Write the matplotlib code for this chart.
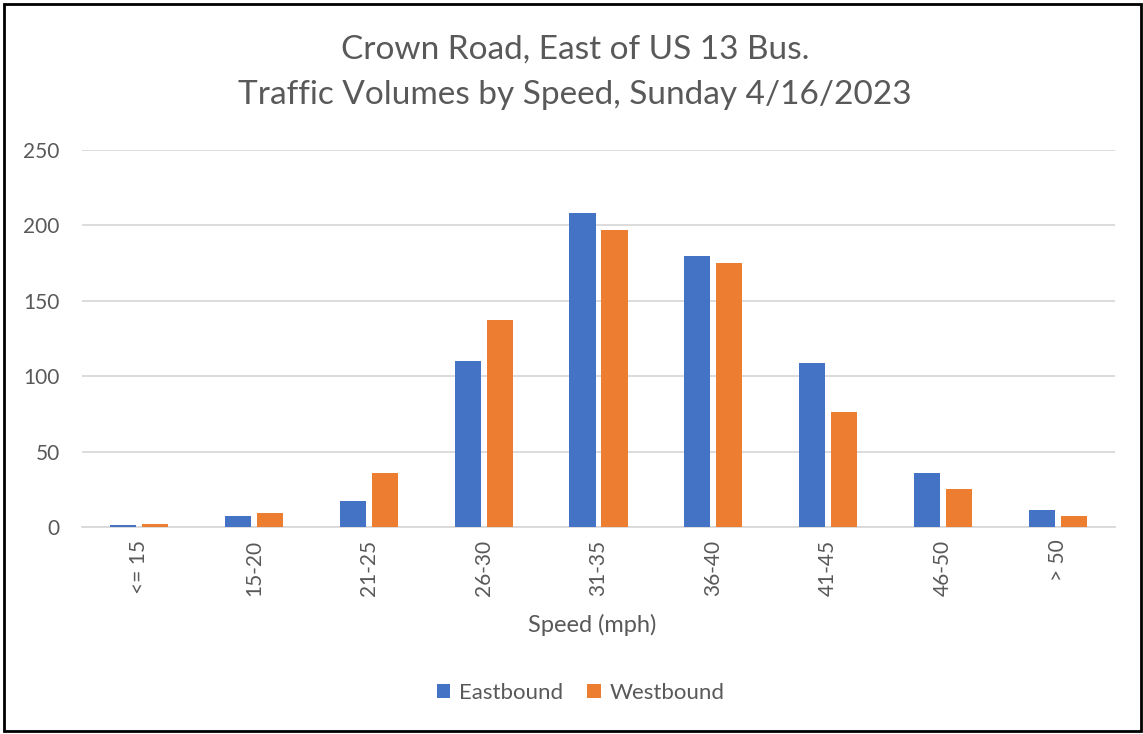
import matplotlib
matplotlib.use("Agg")
import matplotlib.pyplot as plt
import numpy as np
from matplotlib.patches import Rectangle

categories = ["<= 15", "15-20", "21-25", "26-30", "31-35", "36-40", "41-45", "46-50", "> 50"]
eastbound = [1, 7, 17, 110, 208, 180, 109, 36, 11]
westbound = [2, 9, 36, 137, 197, 175, 76, 25, 7]
yticks = [0, 50, 100, 150, 200, 250]

plt.rcParams['font.family'] = ['Lato', 'DejaVu Sans']
txt = '#595959'

fig = plt.figure(figsize=(11.43, 7.34), dpi=100)
ax = fig.add_axes([82/1143, 1-527/734, (1115-82)/1143, (527-150)/734])

x = np.arange(len(categories))
w = 0.227
gap = 0.026
ax.bar(x - w/2 - gap, eastbound, width=w, color='#4472C4', label='Eastbound', zorder=3)
ax.bar(x + w/2 + gap, westbound, width=w, color='#ED7D31', label='Westbound', zorder=3)

ax.set_xlim(-0.5, len(categories) - 0.5)
ax.set_ylim(0, 250)
ax.set_yticks(yticks)
ax.yaxis.grid(True, color='#D9D9D9', linewidth=1.3, zorder=0)
ax.set_axisbelow(True)
for s in ['top', 'right', 'left']:
    ax.spines[s].set_visible(False)
ax.spines['bottom'].set_color('#D9D9D9')
ax.spines['bottom'].set_linewidth(1.3)
ax.tick_params(axis='both', length=0, colors=txt, labelsize=15)
ax.tick_params(axis='y', pad=16)
ax.tick_params(axis='x', pad=9)
ax.set_xticks(x)
ax.set_xticklabels(categories, rotation=90)

fig.text(0.518, 1-625/734, 'Speed (mph)', ha='center', va='center', fontsize=17, color=txt)

fig.text(0.503, 1-50/734, 'Crown Road, East of US 13 Bus.', ha='center', va='center', fontsize=24, color=txt)
fig.text(0.503, 1-95/734, 'Traffic Volumes by Speed, Sunday 4/16/2023', ha='center', va='center', fontsize=24, color=txt)

leg = fig.legend(loc='center', bbox_to_anchor=(0.508, 1-693/734), ncol=2, frameon=False,
                 fontsize=16, handlelength=0.6, handleheight=0.6, columnspacing=1.1, handletextpad=0.4)
for t in leg.get_texts():
    t.set_color(txt)

fig.patches.append(Rectangle((4/1143, 3/734), 1137/1143, 727/734, transform=fig.transFigure,
                             fill=False, edgecolor='black', linewidth=2))

fig.savefig('out.png', dpi=100)
